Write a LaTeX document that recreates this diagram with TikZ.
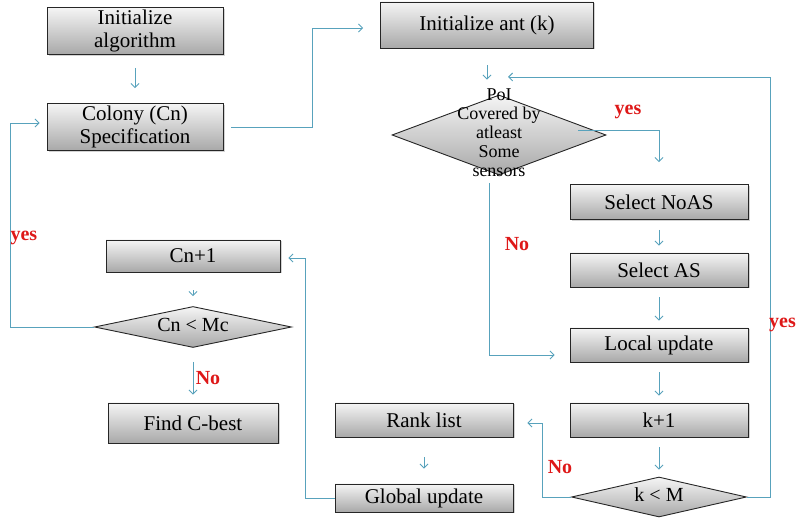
\documentclass[tikz,border=0pt]{standalone}
\usepackage{fontspec}
\setmainfont{Liberation Serif}
\usepackage{tikz}
\usetikzlibrary{shapes.geometric,arrows.meta,shadows,calc}

\definecolor{linkc}{RGB}{88,162,188}
\definecolor{labc}{RGB}{222,24,24}

\begin{document}
\begin{tikzpicture}[x=1pt,y=-1pt,
        box/.style={draw=black!85, line width=0.9pt, top color=gray!8, bottom color=gray!68,
            drop shadow={shadow xshift=1.5pt,shadow yshift=-1.5pt,opacity=0.35},
            font=\rmfamily\fontsize{21}{23}\selectfont, align=center, inner sep=0pt},
        cond/.style={diamond, draw=black!85, line width=0.9pt, top color=gray!8, bottom color=gray!68,
            inner sep=0pt, font=\rmfamily\fontsize{20}{22}\selectfont},
        flow/.style={draw=linkc, line width=0.9pt, -{Straight Barb[length=4pt,width=8pt]}},
        lab/.style={text=labc, font=\rmfamily\fontsize{20}{22}\selectfont\bfseries}]
                        \useasboundingbox (0,0) rectangle (796,518);

                        \node[box, minimum width=176pt, minimum height=47pt] (initalg) at (135,31) {Initialize\\algorithm};
                        \node[box, minimum width=176pt, minimum height=47pt] (colony) at (135,127) {Colony (Cn)\\Specification};
                        \node[box, minimum width=213pt, minimum height=46pt] (initant) at (487,25) {Initialize ant (k)};
                        \node[cond, minimum width=214pt, minimum height=80pt, font=\rmfamily\fontsize{18}{19}\selectfont] (poi) at (499,135)
                            {\makebox[0pt]{\smash{\raisebox{-4pt}{\begin{tabular}{@{}c@{}}PoI\\Covered by\\atleast\\Some\\sensors\end{tabular}}}}};

                        \node[box, minimum width=178pt, minimum height=35pt] (noas) at (659,202) {Select NoAS};
                        \node[box, minimum width=178pt, minimum height=34pt] (as) at (659,270) {Select AS};
                        \node[box, minimum width=178pt, minimum height=34pt] (local) at (659,345) {Local update};
                        \node[box, minimum width=178pt, minimum height=34pt] (kp1) at (659,420) {k+1};
                        \node[cond, minimum width=175pt, minimum height=40pt] (km) at (659,497)
                            {\makebox[0pt]{\smash{\raisebox{-5pt}{\begin{tabular}{@{}c@{}}k < M\end{tabular}}}}};

                        \node[box, minimum width=178pt, minimum height=34pt] (rank) at (424,420) {Rank list};
                        \node[box, minimum width=178pt, minimum height=28pt] (global) at (424,498) {Global update};

                        \node[box, minimum width=174pt, minimum height=32pt] (cn1) at (193,256) {Cn+1};
                        \node[cond, minimum width=197pt, minimum height=41pt] (cnmc) at (193,327)
                            {\makebox[0pt]{\smash{\raisebox{-5pt}{\begin{tabular}{@{}c@{}}Cn < Mc\end{tabular}}}}};
                        \node[box, minimum width=170pt, minimum height=40pt] (findc) at (193,423) {Find C-best};

                        \coordinate (cA) at (312,28);
                        \coordinate (yA) at (578,130);
                        \coordinate (nA) at (489,183);
                        \coordinate (rA) at (770,77);
                        \coordinate (kA) at (542,423);
                        \coordinate (gA) at (305,258);
                        \coordinate (yL) at (10,123);

                        \draw[flow, shorten <=13pt, shorten >=15pt] (initalg) -- (colony);
                        \draw[flow, shorten <=8pt, shorten >=17pt] (colony.east) -| (cA) -- (cA -| initant.west);
                        \draw[flow, shorten <=17pt, shorten >=15pt] (initant.south) -- (initant.south |- poi.north);
                        \draw[flow, shorten >=22pt] (yA) -| (noas.north);
                        \draw[flow, shorten >=15pt] (nA) |- ($(local.west)+(0,10)$);
                        \foreach \a/\b in {noas/as, as/local, local/kp1, kp1/km}
                            \draw[flow, shorten <=10pt, shorten >=7pt] (\a) -- (\b);
                        \draw[flow, shorten >=9pt] (km.east) -| (rA) -- (rA -| poi.north);
                        \draw[flow, shorten >=14pt] (km.west) -| (kA) -- (kA -| rank.east);
                        \draw[flow, shorten <=20pt, shorten >=15pt] (rank) -- (global);
                        \draw[flow, shorten >=8pt] (global.west) -| (gA) -- (gA -| cn1.east);
                        \draw[flow, shorten <=18pt, shorten >=10pt] (cn1) -- (cnmc);
                        \draw[flow, shorten <=14pt, shorten >=8pt] (cnmc) -- (findc);
                        \draw[flow, shorten >=7pt] (cnmc.west) -| (yL) -- (yL -| colony.west);

                        \node[lab] (yes1) at (628,112) {yes};
                        \node[lab] (no1) at (517,244) {No};
                        \node[lab, anchor=west, inner sep=0pt] (yes2) at (769,325) {yes};
                        \node[lab] (no2) at (560,467) {No};
                        \node[lab] (no3) at (208,378) {No};
                        \node[lab, anchor=west] (yes3) at (7,238) {yes};
                    \end{tikzpicture}
\end{document}
